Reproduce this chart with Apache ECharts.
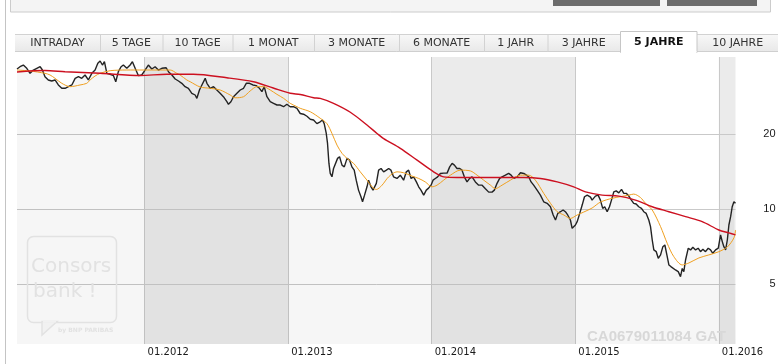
<!DOCTYPE html>
<html>
<head>
<meta charset="utf-8">
<script src="https://cdn.jsdelivr.net/npm/echarts@6/dist/echarts.min.js"></script>
<style>
html,body{margin:0;padding:0;background:#ffffff;}
#chart{width:783px;height:364px;}
</style>
</head>
<body>
<div id="chart"></div>
<script>
// ---------- data ----------
const tabLabels = ['INTRADAY','5 TAGE','10 TAGE','1 MONAT','3 MONATE','6 MONATE','1 JAHR','3 JAHRE','5 JAHRE','10 JAHRE'];
const selectedTab = '5 JAHRE';
const yearTicks = [2012, 2013, 2014, 2015, 2016];
const priceTicks = [5, 10, 20];
const shadedYears = [[2012, 2013], [2014, 2015], [2016, 2016.116]];
const isinText = 'CA0679011084 GAT';

// closing price, [decimal year, price]
const price = [
[2011.111,36.57],[2011.132,37.35],[2011.155,37.94],[2011.179,36.81],[2011.202,35.14],[2011.225,36.23],[2011.249,36.81],[2011.272,37.35],[2011.288,36.23],[2011.306,34.06],
[2011.329,33.04],[2011.353,32.73],[2011.376,33.04],[2011.399,31.55],[2011.423,30.60],[2011.446,30.60],[2011.469,31.06],[2011.493,31.55],[2011.516,33.55],[2011.539,34.06],
[2011.562,33.55],[2011.585,34.60],[2011.608,33.04],[2011.632,35.14],[2011.655,36.23],[2011.674,38.55],[2011.690,39.38],[2011.706,37.94],[2011.720,39.12],[2011.737,35.14],
[2011.760,34.82],[2011.783,34.38],[2011.799,32.52],[2011.817,35.67],[2011.836,37.35],[2011.852,37.94],[2011.876,36.81],[2011.899,37.94],[2011.915,39.12],[2011.934,36.81],
[2011.957,34.38],[2011.980,34.60],[2012.003,36.23],[2012.026,37.94],[2012.050,36.57],[2012.073,37.35],[2012.096,36.23],[2012.120,36.81],[2012.150,37.00],[2012.166,35.67],
[2012.190,34.60],[2012.213,33.34],[2012.236,32.73],[2012.259,32.04],[2012.282,31.06],[2012.305,30.60],[2012.329,29.22],[2012.352,28.76],[2012.364,27.89],[2012.382,30.12],
[2012.399,31.55],[2012.422,33.55],[2012.434,32.04],[2012.457,30.60],[2012.480,31.06],[2012.503,30.12],[2012.526,29.22],[2012.549,28.31],[2012.573,27.03],[2012.584,26.39],
[2012.601,27.03],[2012.619,28.31],[2012.643,29.22],[2012.666,30.12],[2012.689,30.60],[2012.708,32.04],[2012.731,32.04],[2012.754,31.55],[2012.777,31.35],[2012.800,30.60],
[2012.817,29.66],[2012.833,31.06],[2012.852,28.31],[2012.875,27.03],[2012.898,26.63],[2012.922,26.22],[2012.945,26.22],[2012.968,25.81],[2012.991,26.39],[2013.014,25.81],
[2013.037,25.81],[2013.061,25.43],[2013.084,24.24],[2013.107,24.08],[2013.131,23.63],[2013.154,22.99],[2013.177,22.83],[2013.200,22.07],[2013.223,22.45],[2013.239,22.83],
[2013.251,22.07],[2013.265,20.20],[2013.274,18.42],[2013.284,15.28],[2013.293,13.94],[2013.305,13.51],[2013.316,14.58],[2013.328,14.36],[2013.344,16.01],[2013.358,16.26],
[2013.375,15.04],[2013.391,14.80],[2013.410,16.01],[2013.428,15.75],[2013.444,14.80],[2013.460,14.36],[2013.474,13.09],[2013.490,11.94],[2013.507,11.23],[2013.518,10.72],
[2013.532,11.40],[2013.549,12.31],[2013.560,13.09],[2013.577,12.31],[2013.591,11.94],[2013.600,11.75],[2013.614,12.71],[2013.630,14.36],[2013.647,14.58],[2013.665,14.14],
[2013.684,14.36],[2013.700,14.58],[2013.716,14.36],[2013.734,13.50],[2013.758,13.30],[2013.781,13.71],[2013.804,13.09],[2013.823,14.14],[2013.839,14.36],[2013.856,13.30],
[2013.874,13.50],[2013.893,12.88],[2013.909,12.31],[2013.925,11.94],[2013.944,11.40],[2013.962,11.94],[2013.978,12.16],[2013.995,12.50],[2014.009,13.09],[2014.025,13.30],
[2014.041,13.50],[2014.060,13.93],[2014.083,13.97],[2014.107,13.97],[2014.125,14.80],[2014.142,15.28],[2014.158,15.04],[2014.176,14.58],[2014.195,14.58],[2014.211,14.36],
[2014.227,13.50],[2014.246,12.88],[2014.264,13.30],[2014.281,13.50],[2014.304,12.88],[2014.327,12.50],[2014.351,12.50],[2014.374,12.10],[2014.397,11.72],[2014.420,11.72],
[2014.436,11.94],[2014.455,12.71],[2014.473,13.30],[2014.490,13.50],[2014.513,13.71],[2014.536,13.93],[2014.553,13.71],[2014.571,13.30],[2014.595,13.50],[2014.618,14.02],
[2014.641,13.93],[2014.660,13.71],[2014.676,13.50],[2014.692,12.88],[2014.710,12.50],[2014.734,11.94],[2014.757,11.40],[2014.780,10.72],[2014.804,10.57],[2014.827,10.24],
[2014.846,9.49],[2014.862,9.06],[2014.878,9.63],[2014.897,9.78],[2014.915,9.94],[2014.931,9.78],[2014.947,9.49],[2014.966,9.06],[2014.978,8.39],[2014.989,8.52],
[2015.001,8.65],[2015.013,8.92],[2015.031,9.63],[2015.048,10.40],[2015.064,11.23],[2015.083,11.40],[2015.106,11.19],[2015.117,10.89],[2015.140,11.30],[2015.159,11.40],
[2015.175,10.89],[2015.191,10.09],[2015.205,10.24],[2015.222,9.78],[2015.238,10.24],[2015.252,10.89],[2015.268,11.75],[2015.285,11.86],[2015.303,11.64],[2015.322,12.03],
[2015.338,11.59],[2015.355,11.59],[2015.373,11.30],[2015.391,10.89],[2015.407,10.57],[2015.424,10.50],[2015.442,10.24],[2015.461,10.09],[2015.477,9.78],[2015.494,9.63],
[2015.512,9.06],[2015.524,8.52],[2015.536,7.53],[2015.547,6.87],[2015.564,6.76],[2015.578,6.36],[2015.594,6.56],[2015.610,7.08],[2015.624,7.19],[2015.638,6.56],
[2015.652,5.98],[2015.666,5.89],[2015.679,5.98],[2015.698,5.71],[2015.717,5.62],[2015.733,5.37],[2015.745,5.79],[2015.756,5.62],[2015.768,6.26],[2015.787,6.98],
[2015.803,6.87],[2015.819,7.04],[2015.838,6.87],[2015.856,6.98],[2015.872,6.76],[2015.889,6.91],[2015.907,6.76],[2015.926,6.98],[2015.942,6.87],[2015.958,6.66],
[2015.977,6.87],[2015.996,6.98],[2016.012,7.89],[2016.024,7.42],[2016.035,7.08],[2016.047,6.87],[2016.059,7.53],[2016.070,8.65],[2016.082,9.34],[2016.093,10.24],
[2016.105,10.72],[2016.116,10.57]
];

// short moving average (orange)
const avgShort = [
[2011.111,36.23],[2011.202,35.90],[2011.306,35.14],[2011.341,34.60],[2011.376,33.55],[2011.423,32.04],[2011.481,31.06],[2011.550,31.55],[2011.597,32.04],[2011.620,33.04],
[2011.655,34.28],[2011.690,35.14],[2011.760,36.00],[2011.876,36.23],[2011.990,36.23],[2012.108,36.23],[2012.178,36.23],[2012.224,35.14],[2012.247,34.60],[2012.294,33.04],
[2012.317,32.52],[2012.387,30.97],[2012.457,30.60],[2012.526,30.12],[2012.596,28.76],[2012.631,28.03],[2012.689,28.31],[2012.735,29.85],[2012.782,31.06],[2012.828,31.06],
[2012.875,30.12],[2012.922,28.93],[2012.968,27.89],[2013.014,26.63],[2013.061,25.81],[2013.084,25.43],[2013.154,24.63],[2013.223,23.20],[2013.270,22.07],[2013.305,20.16],
[2013.340,18.10],[2013.375,16.78],[2013.410,16.01],[2013.456,15.28],[2013.502,14.14],[2013.549,13.09],[2013.584,12.31],[2013.614,12.01],[2013.654,12.50],[2013.700,13.50],
[2013.758,14.14],[2013.804,14.02],[2013.863,13.59],[2013.909,13.30],[2013.955,12.88],[2014.002,12.31],[2014.037,12.50],[2014.083,13.09],[2014.130,13.71],[2014.199,14.36],
[2014.269,14.26],[2014.316,13.71],[2014.362,13.09],[2014.409,12.50],[2014.443,12.10],[2014.490,12.50],[2014.548,13.09],[2014.618,13.71],[2014.676,13.71],[2014.722,13.09],
[2014.780,11.59],[2014.827,10.57],[2014.874,9.78],[2014.920,9.49],[2014.966,9.19],[2015.013,9.49],[2015.059,9.75],[2015.117,10.12],[2015.175,10.69],[2015.257,11.07],
[2015.373,11.40],[2015.407,11.51],[2015.454,11.15],[2015.489,10.57],[2015.536,9.94],[2015.594,8.52],[2015.640,7.31],[2015.686,6.46],[2015.745,5.98],[2015.791,6.09],
[2015.861,6.38],[2015.930,6.56],[2016.000,6.76],[2016.059,7.06],[2016.105,7.68],[2016.116,8.26]
];

// long moving average (red)
const avgLong = [
[2011.111,35.57],[2011.306,36.06],[2011.446,35.67],[2011.690,35.14],[2011.969,34.44],[2012.155,34.82],[2012.340,34.82],[2012.573,33.72],[2012.758,32.52],[2012.896,30.68],
[2013.014,29.22],[2013.084,28.90],[2013.177,28.03],[2013.223,27.86],[2013.316,26.63],[2013.433,24.52],[2013.549,21.80],[2013.619,20.16],[2013.665,19.21],[2013.781,17.57],
[2013.898,15.75],[2014.013,14.14],[2014.083,13.50],[2014.176,13.42],[2014.409,13.42],[2014.641,13.42],[2014.757,13.30],[2014.874,12.88],[2014.989,12.31],[2015.071,11.75],
[2015.187,11.40],[2015.303,11.30],[2015.419,10.89],[2015.536,10.24],[2015.652,9.78],[2015.768,9.34],[2015.884,8.92],[2016.000,8.26],[2016.070,8.04],[2016.116,7.89]
];

// ---------- layout / style ----------
const X_MIN = 2011.111, X_MAX = 2016.116;
const Y_MIN = 2.88, Y_MAX = 40.86;
const lg = v => Math.log2(v);
const toLog = arr => arr.map(p => [p[0], lg(p[1])]);

const tabEdges = [15, 100, 162.5, 232.5, 314, 399, 484, 547.5, 620, 697.5, 778];
const TAB_TOP = 34, TAB_BOTTOM = 52;

const graphics = [];
// outer left frame line
graphics.push({type:'line', shape:{x1:5.5,y1:0,x2:5.5,y2:364}, style:{stroke:'#c4c4c4', lineWidth:1}, z:20});
// top box
graphics.push({type:'rect', shape:{x:10.5,y:-2,width:760,height:14}, style:{fill:'#f4f4f4', stroke:'#cccccc', lineWidth:1}, z:20});
graphics.push({type:'rect', shape:{x:553,y:-2,width:107,height:8}, style:{fill:'#6c6c6c'}, z:21});
graphics.push({type:'rect', shape:{x:667,y:-2,width:90,height:8}, style:{fill:'#6c6c6c'}, z:21});
// tab bar
graphics.push({type:'rect', shape:{x:tabEdges[0], y:TAB_TOP, width:tabEdges[tabEdges.length-1]-tabEdges[0], height:TAB_BOTTOM-TAB_TOP},
  style:{fill:new echarts.graphic.LinearGradient(0,0,0,1,[{offset:0,color:'#f8f8f8'},{offset:1,color:'#e8e8e8'}])}, z:20});
graphics.push({type:'line', shape:{x1:tabEdges[0],y1:TAB_TOP+0.5,x2:tabEdges[tabEdges.length-1],y2:TAB_TOP+0.5}, style:{stroke:'#d2d2d2',lineWidth:1}, z:21});
graphics.push({type:'line', shape:{x1:tabEdges[0],y1:TAB_BOTTOM-0.5,x2:tabEdges[tabEdges.length-1],y2:TAB_BOTTOM-0.5}, style:{stroke:'#cfcfcf',lineWidth:1}, z:21});
tabLabels.forEach((t, i) => {
  const x0 = tabEdges[i], x1 = tabEdges[i+1];
  const sel = t === selectedTab;
  if (sel) {
    graphics.push({type:'rect', shape:{x:x0+0.5, y:TAB_TOP-2.5, width:x1-x0-1, height:TAB_BOTTOM-TAB_TOP+3}, style:{fill:'#ffffff', stroke:'#c6c6c6', lineWidth:1}, z:22});
    graphics.push({type:'rect', shape:{x:x0+1, y:TAB_BOTTOM-1, width:x1-x0-2, height:2}, style:{fill:'#ffffff'}, z:23});
  } else if (i > 0 && tabLabels[i-1] !== selectedTab) {
    graphics.push({type:'line', shape:{x1:x0+0.5,y1:TAB_TOP,x2:x0+0.5,y2:TAB_BOTTOM}, style:{stroke:'#d2d2d2',lineWidth:1}, z:21});
  }
  graphics.push({type:'text', x:(x0+x1)/2, y:(TAB_TOP+TAB_BOTTOM)/2 + (sel?-0.5:0), z:24,
    style:{text:t, fill: sel ? '#111' : '#333', font:(sel?'bold ':'')+'11px "DejaVu Sans"', textAlign:'center', textVerticalAlign:'middle'}});
});
// Consors watermark
graphics.push({type:'rect', shape:{x:27.5,y:236.5,width:89,height:86,r:6}, style:{fill:'none', stroke:'#e2e2e2', lineWidth:1.5}, z:10});
graphics.push({type:'polygon', shape:{points:[[42,321.5],[42,335],[57,321.5]]}, style:{fill:'#f1f1f1', stroke:'#e2e2e2', lineWidth:1.5}, z:10});
graphics.push({type:'rect', shape:{x:43,y:320.5,width:13,height:2}, style:{fill:'#f1f1f1'}, z:11});
graphics.push({type:'text', x:31, y:267, z:11, style:{text:'Consors', fill:'#e2e2e2', font:'20px "DejaVu Sans"', textVerticalAlign:'middle'}});
graphics.push({type:'text', x:33, y:292, z:11, style:{text:'bank !', fill:'#e2e2e2', font:'20px "DejaVu Sans"', textVerticalAlign:'middle'}});
graphics.push({type:'text', x:58, y:330, z:11, style:{text:'by BNP PARIBAS', fill:'#e2e2e2', font:'bold 6px "DejaVu Sans"', textVerticalAlign:'middle'}});
// ISIN watermark
graphics.push({type:'text', x:726, y:336.5, z:11, style:{text:isinText, fill:'#d8d8d8', font:'bold 15px "Liberation Sans"', textAlign:'right', textVerticalAlign:'middle'}});

const chart = echarts.init(document.getElementById('chart'), null, {renderer:'canvas'});
chart.setOption({
  animation: false,
  backgroundColor: '#ffffff',
  grid: {left: 17, top: 57, width: 718.5, height: 287, containLabel: false},
  xAxis: {
    type: 'value', min: X_MIN, max: X_MAX, z: 2,
    axisLine: {show: false},
    axisTick: {show: false, customValues: yearTicks},
    splitLine: {show: true, lineStyle: {color: '#c9c9c9', width: 1}},
    axisLabel: {customValues: yearTicks, formatter: v => '01.' + v, align: 'left', padding: [0,0,0,3], margin: 3,
      color: '#1a1a1a', fontFamily: 'DejaVu Sans', fontSize: 10}
  },
  yAxis: {
    type: 'value', position: 'right', min: lg(Y_MIN), max: lg(Y_MAX), z: 2,
    axisLine: {show: false},
    axisTick: {show: false, customValues: priceTicks.map(lg)},
    splitLine: {show: true, lineStyle: {color: '#c9c9c9', width: 1}},
    axisLabel: {customValues: priceTicks.map(lg), formatter: v => String(Math.round(Math.pow(2, v))), align: 'right', margin: 40,
      color: '#1a1a1a', fontFamily: 'Liberation Sans', fontSize: 11}
  },
  graphic: graphics,
  series: [
    {
      name: 'Kurs', type: 'line', z: 3, data: toLog(price), symbol: 'none', silent: true,
      lineStyle: {color: '#232323', width: 1.4},
      areaStyle: {color: 'rgba(0,0,0,0.05)'},
      markArea: {silent: true, z: 1, itemStyle: {color: '#ebebeb'},
        data: shadedYears.map(r => [{xAxis: r[0]}, {xAxis: r[1]}])}
    },
    {name: 'GD kurz', type: 'line', z: 4, data: toLog(avgShort), symbol: 'none', silent: true, smooth: 0.3,
      lineStyle: {color: '#f0a020', width: 1}},
    {name: 'GD lang', type: 'line', z: 5, data: toLog(avgLong), symbol: 'none', silent: true, smooth: 0.3,
      lineStyle: {color: '#cc1020', width: 1.4}}
  ]
});
</script>
</body>
</html>
